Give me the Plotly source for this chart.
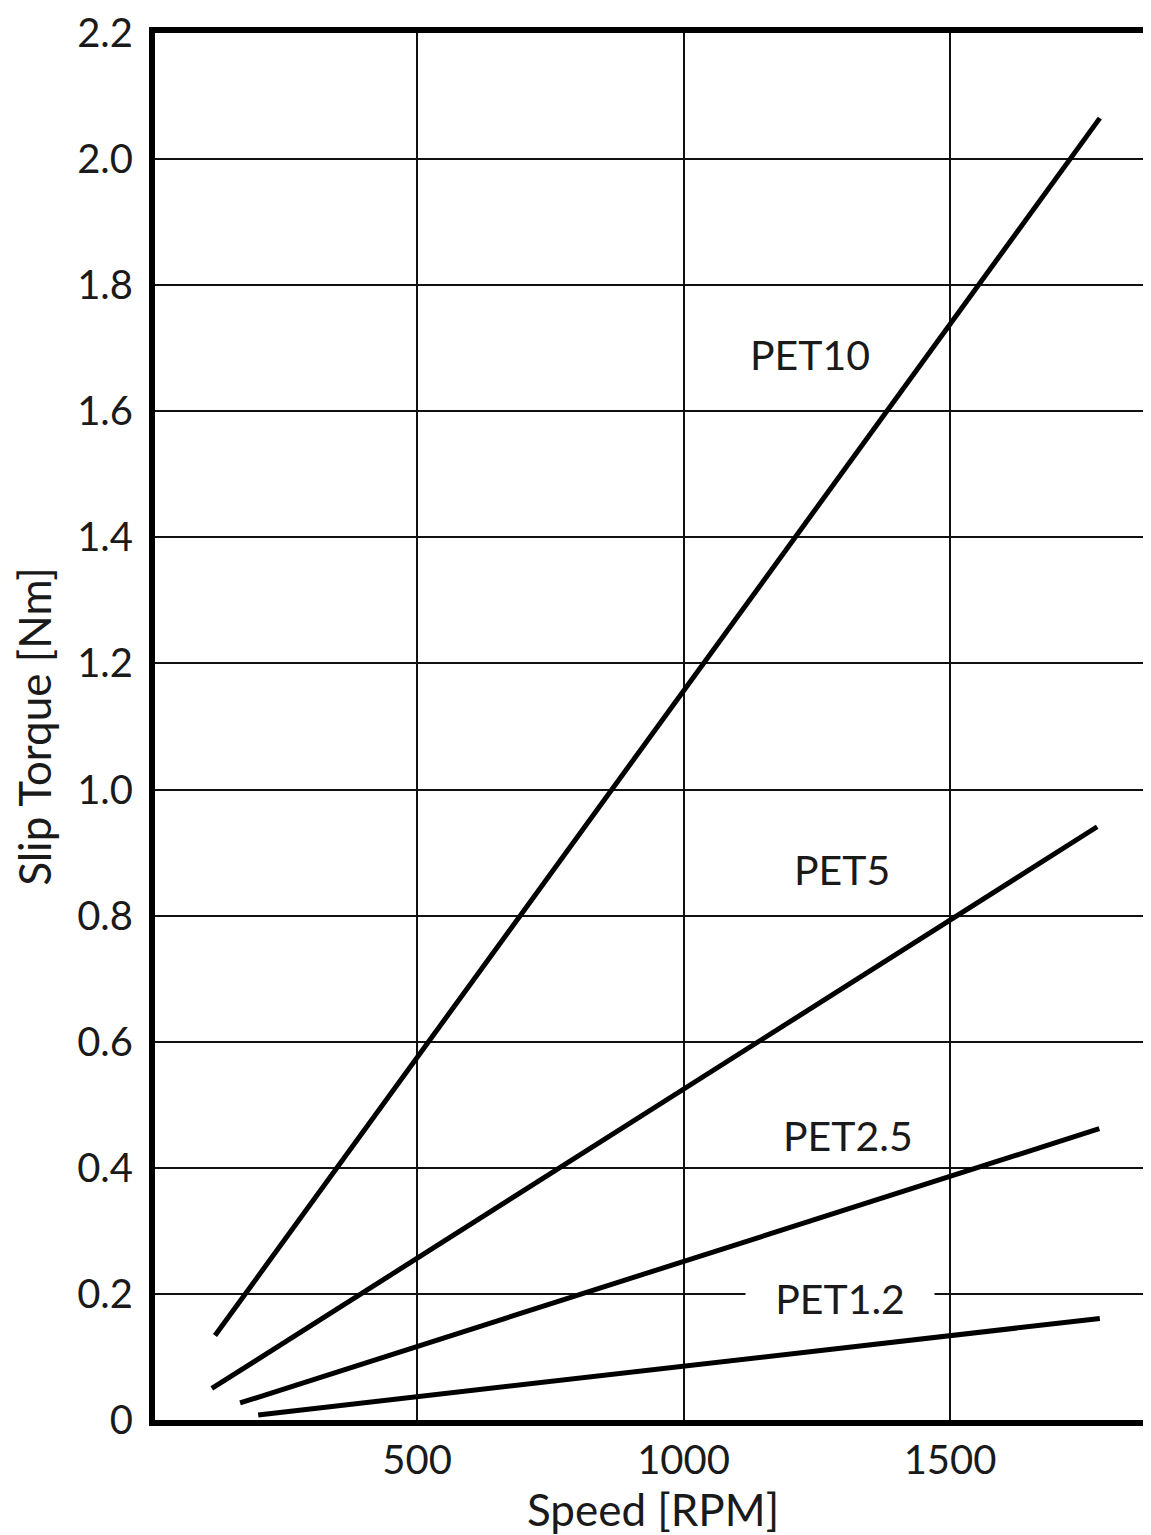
import plotly.graph_objects as go

# Data (speed in RPM, slip torque in Nm)
series_names = ["PET10", "PET5", "PET2.5", "PET1.2"]
speed_pet10 = [121, 1781]
torque_pet10 = [0.134, 2.065]
speed_pet5 = [115, 1776]
torque_pet5 = [0.050, 0.941]
speed_pet25 = [168, 1780]
torque_pet25 = [0.027, 0.462]
speed_pet12 = [202, 1781]
torque_pet12 = [0.008, 0.161]

x_tick_vals = [500, 1000, 1500]
x_tick_text = ["500", "1000", "1500"]
y_tick_vals = [0, 0.2, 0.4, 0.6, 0.8, 1.0, 1.2, 1.4, 1.6, 1.8, 2.0, 2.2]
y_tick_text = ["0", "0.2", "0.4", "0.6", "0.8", "1.0", "1.2", "1.4", "1.6", "1.8", "2.0", "2.2"]

label_x = [1237, 1297, 1309, 1294]
label_y = [1.690, 0.873, 0.452, 0.192]

xs = [speed_pet10, speed_pet5, speed_pet25, speed_pet12]
ys = [torque_pet10, torque_pet5, torque_pet25, torque_pet12]

FONT = "Lato, 'Open Sans', sans-serif"
TXT = "#1a1a1a"

fig = go.Figure()
for name, x, y in zip(series_names, xs, ys):
    fig.add_trace(go.Scatter(x=x, y=y, mode="lines", name=name,
                             line=dict(color="black", width=5), showlegend=False))

for i, name in enumerate(series_names):
    ann = dict(x=label_x[i], y=label_y[i], text=name, showarrow=False,
               font=dict(family=FONT, size=41, color=TXT),
               xanchor="center", yanchor="middle")
    if name == "PET1.2":
        ann.update(bgcolor="white", width=188, borderpad=0)
    fig.add_annotation(**ann)

fig.update_layout(
    width=1143, height=1527,
    margin=dict(l=147, r=0, t=17, b=115),
    paper_bgcolor="white", plot_bgcolor="white",
    font=dict(family=FONT, size=40, color=TXT),
)
fig.update_xaxes(
    range=[8.4, 1877], tickvals=x_tick_vals, ticktext=x_tick_text,
    showgrid=True, gridcolor="#111", gridwidth=1.5,
    showline=True, linecolor="black", linewidth=6, mirror=True,
    ticks="", zeroline=False, ticklabelstandoff=0,
    title=dict(text="Speed [RPM]", font=dict(family=FONT, size=44, color=TXT), standoff=6),
    tickfont=dict(family=FONT, size=40, color=TXT),
)
fig.update_yaxes(
    range=[0, 2.2], tickvals=y_tick_vals, ticktext=y_tick_text,
    showgrid=True, gridcolor="#111", gridwidth=1.5,
    showline=True, linecolor="black", linewidth=6, mirror=False,
    ticks="", zeroline=False, ticklabelstandoff=8, ticklabeloverflow="allow",
    title=dict(text="Slip Torque [Nm]", font=dict(family=FONT, size=44, color=TXT), standoff=16),
    tickfont=dict(family=FONT, size=40, color=TXT),
)

fig.write_html("out.html")
